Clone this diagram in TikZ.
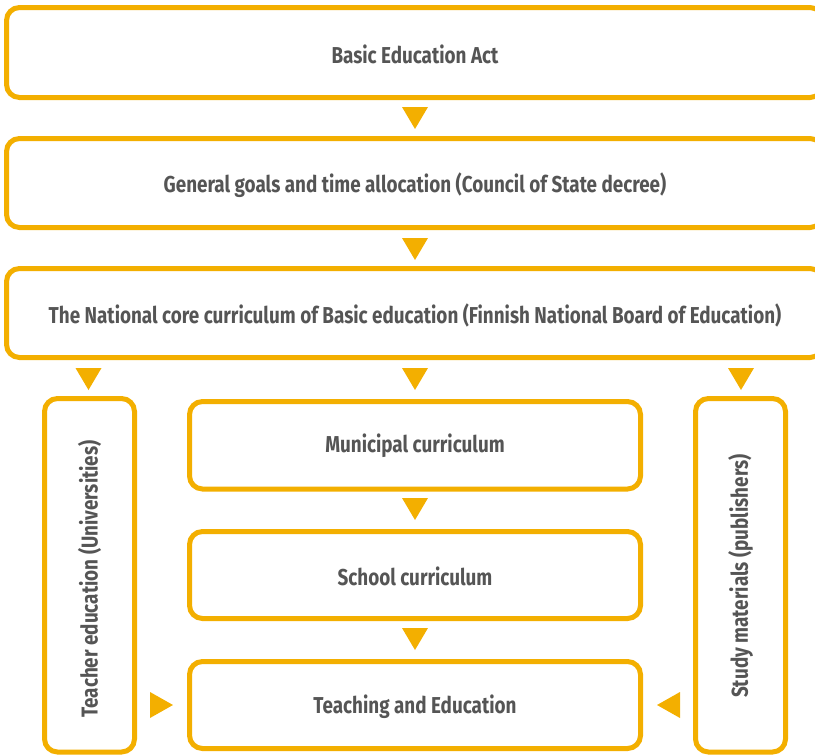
\documentclass[tikz,border=0pt]{standalone}
\usepackage{fontspec}
\setmainfont{Fira Sans}[UprightFont=* Bold, BoldFont=* Bold, FakeStretch=0.82]
\definecolor{frame}{HTML}{F3AF00}
\definecolor{txt}{HTML}{555555}
\tikzset{
  panel/.style={draw=frame, line width=5pt, rounded corners=13pt, fill=white},
  label/.style={text=txt, font=\fontsize{23}{26}\selectfont, inner sep=0pt},
  arrowhead/.style={fill=frame, draw=none},
}
\begin{document}
\begin{tikzpicture}[x=1pt,y=-1pt]
\useasboundingbox (0,0) rectangle (815,755);
\begin{scope}
\clip (0,0) rectangle (815,755);
% top-level chain of regulations
\draw[panel] (6.5,7.5) rectangle (823,97.5);
\node[label] (act) at (415,54) {Basic Education Act};
\draw[panel] (6.5,138.5) rectangle (823,227.5);
\node[label] (goals) at (415,185) {General goals and time allocation (Council of State decree)};
\draw[panel] (6.5,268.5) rectangle (823,357.5);
\node[label] (core) at (415,315) {The National core curriculum of Basic education (Finnish National Board of Education)};
% side columns
\draw[panel] (44.5,398.5) rectangle (134.5,752);
\node[label, rotate=90] (teacher) at (89.5,579) {Teacher education (Universities)};
\draw[panel] (695.5,398.5) rectangle (785.5,752);
\node[label, rotate=90] (study) at (740.5,576) {Study materials (publishers)};
% local curriculum chain
\draw[panel] (189.5,401.5) rectangle (640.5,489);
\node[label] (muni) at (415,446) {Municipal curriculum};
\draw[panel] (189.5,531.5) rectangle (640.5,618.5);
\node[label] (school) at (415,576) {School curriculum};
\draw[panel] (189.5,661.5) rectangle (640.5,748.5);
\node[label] (teach) at (415,707) {Teaching and Education};
\end{scope}
% downward markers
\foreach \cx/\ty in {415/107, 415/238, 415/368, 88.5/368, 741/368, 415/498, 415/628}
  \fill[arrowhead] (\cx-13,\ty) -- (\cx+13,\ty) -- (\cx,\ty+22) -- cycle;
% sideways markers
\fill[arrowhead] (150,692) -- (150,718) -- (173,705) -- cycle;
\fill[arrowhead] (680,692) -- (680,718) -- (657,705) -- cycle;
\end{tikzpicture}
\end{document}
